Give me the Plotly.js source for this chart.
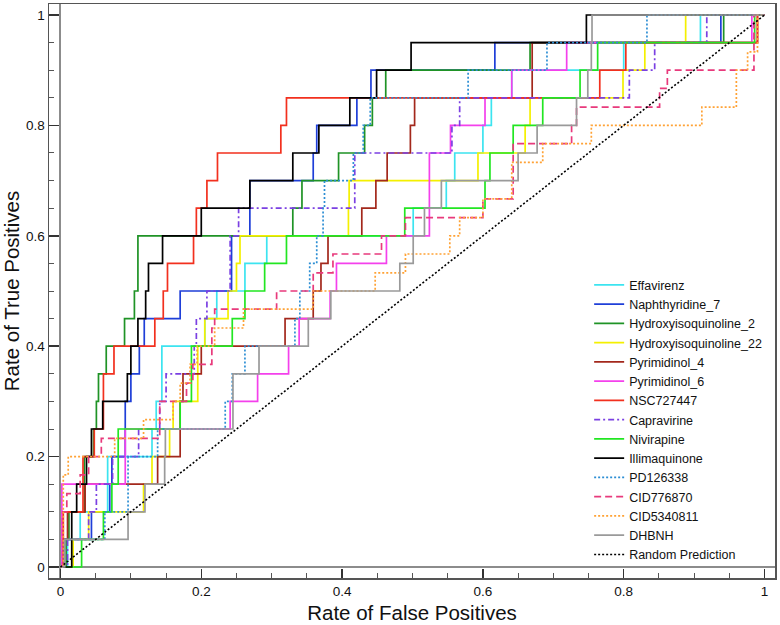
<!DOCTYPE html>
<html>
<head>
<meta charset="utf-8">
<script src="https://cdn.plot.ly/plotly-3.0.1.min.js"></script>
<style>html,body{margin:0;padding:0;background:#fff;}#chart{width:780px;height:625px;}</style>
</head>
<body>
<div id="chart"></div>
<script>
// TPR levels reached (20 actives, steps of 0.05)
const tprSteps = [0.05,0.10,0.15,0.20,0.25,0.30,0.35,0.40,0.45,0.50,0.55,0.60,0.65,0.70,0.75,0.80,0.85,0.90,0.95,1.00];

// FPR at which each TPR level above is reached
const fprEffavirenz = [0.010,0.028,0.067,0.067,0.130,0.136,0.144,0.144,0.205,0.222,0.262,0.293,0.501,0.548,0.560,0.600,0.612,0.641,0.800,0.909];
const fprNaphthyridine7 = [0.004,0.044,0.070,0.073,0.092,0.092,0.100,0.112,0.119,0.170,0.243,0.243,0.269,0.269,0.359,0.364,0.421,0.441,0.617,0.938];
const fprHydroxyisoquinoline2 = [0.008,0.012,0.034,0.034,0.047,0.051,0.054,0.065,0.091,0.105,0.110,0.110,0.330,0.343,0.395,0.432,0.443,0.462,0.667,0.942];
const fprHydroxyisoquinoline22 = [0.018,0.040,0.118,0.130,0.155,0.160,0.195,0.195,0.205,0.238,0.250,0.255,0.409,0.410,0.593,0.660,0.667,0.799,0.830,0.888];
const fprPyrimidinol4 = [0.005,0.010,0.035,0.138,0.170,0.170,0.174,0.200,0.319,0.359,0.370,0.380,0.428,0.448,0.464,0.497,0.503,0.670,0.670,0.990];
const fprPyrimidinol6 = [0.002,0.002,0.002,0.092,0.092,0.241,0.280,0.324,0.339,0.383,0.392,0.463,0.524,0.524,0.524,0.554,0.603,0.641,0.719,0.982];
const fprNSC727447 = [0.004,0.004,0.032,0.032,0.048,0.061,0.061,0.076,0.134,0.146,0.152,0.189,0.193,0.208,0.223,0.313,0.321,0.766,0.803,0.990];
const fprCapravirine = [0.010,0.040,0.051,0.074,0.111,0.141,0.150,0.190,0.193,0.208,0.241,0.241,0.253,0.418,0.418,0.556,0.567,0.808,0.844,0.918];
const fprNivirapine = [0.030,0.061,0.073,0.082,0.082,0.170,0.186,0.186,0.244,0.262,0.290,0.321,0.489,0.603,0.610,0.643,0.685,0.738,0.763,0.986];
const fprIllimaquinone = [0.016,0.016,0.023,0.037,0.044,0.060,0.095,0.100,0.110,0.121,0.125,0.145,0.200,0.269,0.330,0.367,0.411,0.449,0.498,0.747];
const fprPD126338 = [0.005,0.063,0.096,0.096,0.138,0.234,0.244,0.262,0.333,0.340,0.354,0.364,0.373,0.375,0.416,0.430,0.440,0.579,0.691,0.833];
const fprDHBNH = [0.006,0.096,0.120,0.148,0.149,0.245,0.245,0.282,0.352,0.384,0.482,0.501,0.517,0.541,0.650,0.677,0.733,0.749,0.754,0.755];

// Series with 30 actives (steps of 1/30)
const tprCID776870 = [0.100,0.133,0.167,0.200,0.233,0.300,0.333,0.367,0.433,0.467,0.500,0.533,0.567,0.600,0.633,0.667,0.767,0.800,0.833,0.867,0.900,1.000];
const fprCID776870 = [0.003,0.009,0.028,0.040,0.058,0.141,0.179,0.188,0.215,0.219,0.307,0.359,0.387,0.456,0.490,0.600,0.643,0.726,0.733,0.851,0.862,0.985];
const tprCID5340811 = [0.167,0.200,0.233,0.267,0.300,0.333,0.367,0.400,0.433,0.467,0.500,0.533,0.567,0.600,0.633,0.667,0.733,0.767,0.800,0.833,0.900,0.933,1.000];
const fprCID5340811 = [0.004,0.011,0.077,0.118,0.160,0.170,0.184,0.194,0.219,0.260,0.359,0.447,0.490,0.553,0.567,0.600,0.641,0.685,0.754,0.911,0.960,0.976,0.990];

const randomX = [0, 1];
const randomY = [0, 1];

const tickVals = [0, 0.2, 0.4, 0.6, 0.8, 1];
const tickText = ['0', '0.2', '0.4', '0.6', '0.8', '1'];

function roc(name, fpr, tpr, color, dash, width) {
  return {
    type: 'scatter', mode: 'lines', name: name,
    x: [0].concat(fpr, [1]), y: [0].concat(tpr, [1]),
    line: {shape: 'hv', color: color, dash: dash || 'solid', width: width || 1.7},
    hoverinfo: 'skip'
  };
}

const traces = [
  roc('Effavirenz', fprEffavirenz, tprSteps, '#3ce4f0'),
  roc('Naphthyridine_7', fprNaphthyridine7, tprSteps, '#1f3fd8'),
  roc('Hydroxyisoquinoline_2', fprHydroxyisoquinoline2, tprSteps, '#1f9326'),
  roc('Hydroxyisoquinoline_22', fprHydroxyisoquinoline22, tprSteps, '#f4f000'),
  roc('Pyrimidinol_4', fprPyrimidinol4, tprSteps, '#a3281c'),
  roc('Pyrimidinol_6', fprPyrimidinol6, tprSteps, '#f440ec'),
  roc('NSC727447', fprNSC727447, tprSteps, '#f2301e'),
  roc('Capravirine', fprCapravirine, tprSteps, '#7b40e2', '6px,3px,2px,3px'),
  roc('Nivirapine', fprNivirapine, tprSteps, '#22e622'),
  roc('Illimaquinone', fprIllimaquinone, tprSteps, '#000000'),
  roc('PD126338', fprPD126338, tprSteps, '#2c8ed4', '2px,2px'),
  roc('CID776870', fprCID776870, tprCID776870, '#e83a7c', '7px,4px'),
  roc('CID5340811', fprCID5340811, tprCID5340811, '#ffa235', '2px,2px'),
  roc('DHBNH', fprDHBNH, tprSteps, '#9a9a9a'),
  {type: 'scatter', mode: 'lines', name: 'Random Prediction', x: randomX, y: randomY,
   line: {color: '#000000', dash: '2px,2px', width: 1.6}, hoverinfo: 'skip'}
];

const font = 'Liberation Sans, Arial, Helvetica, sans-serif';
const axisCommon = {
  tickvals: tickVals, ticktext: tickText,
  ticks: 'inside', tickwidth: 1.5, tickcolor: '#333',
  minor: {ticks: 'inside', tick0: 0, dtick: 0.05, ticklen: 5, tickwidth: 1, tickcolor: '#555'},
  showgrid: false,
  zeroline: true, zerolinecolor: '#8c8c8c', zerolinewidth: 2,
  showline: true, mirror: true, linecolor: '#555', linewidth: 1.5,
  tickfont: {family: font, size: 13.5, color: '#111'},
  automargin: false, fixedrange: true
};

const layout = {
  width: 780, height: 625,
  margin: {l: 49, r: 5, t: 4, b: 47},
  paper_bgcolor: '#fff', plot_bgcolor: '#fff',
  font: {family: font, color: '#111'},
  showlegend: true,
  legend: {x: 0.744, xanchor: 'left', y: 0.536, yanchor: 'top', bgcolor: 'rgba(0,0,0,0)', borderwidth: 0,
           font: {family: font, size: 12.5, color: '#111'}, tracegroupgap: 0},
  xaxis: Object.assign({}, axisCommon, {
    range: [-0.0163, 1.0149], ticklen: 9,
    title: {text: 'Rate of False Positives', font: {family: font, size: 20.5, color: '#111'}, standoff: 8}
  }),
  yaxis: Object.assign({}, axisCommon, {
    range: [-0.0199, 1.0199], ticklen: 10,
    title: {text: 'Rate of True Positives', font: {family: font, size: 20.5, color: '#111'}, standoff: 6}
  })
};

Plotly.newPlot('chart', traces, layout, {displayModeBar: false, staticPlot: true});
</script>
</body>
</html>
